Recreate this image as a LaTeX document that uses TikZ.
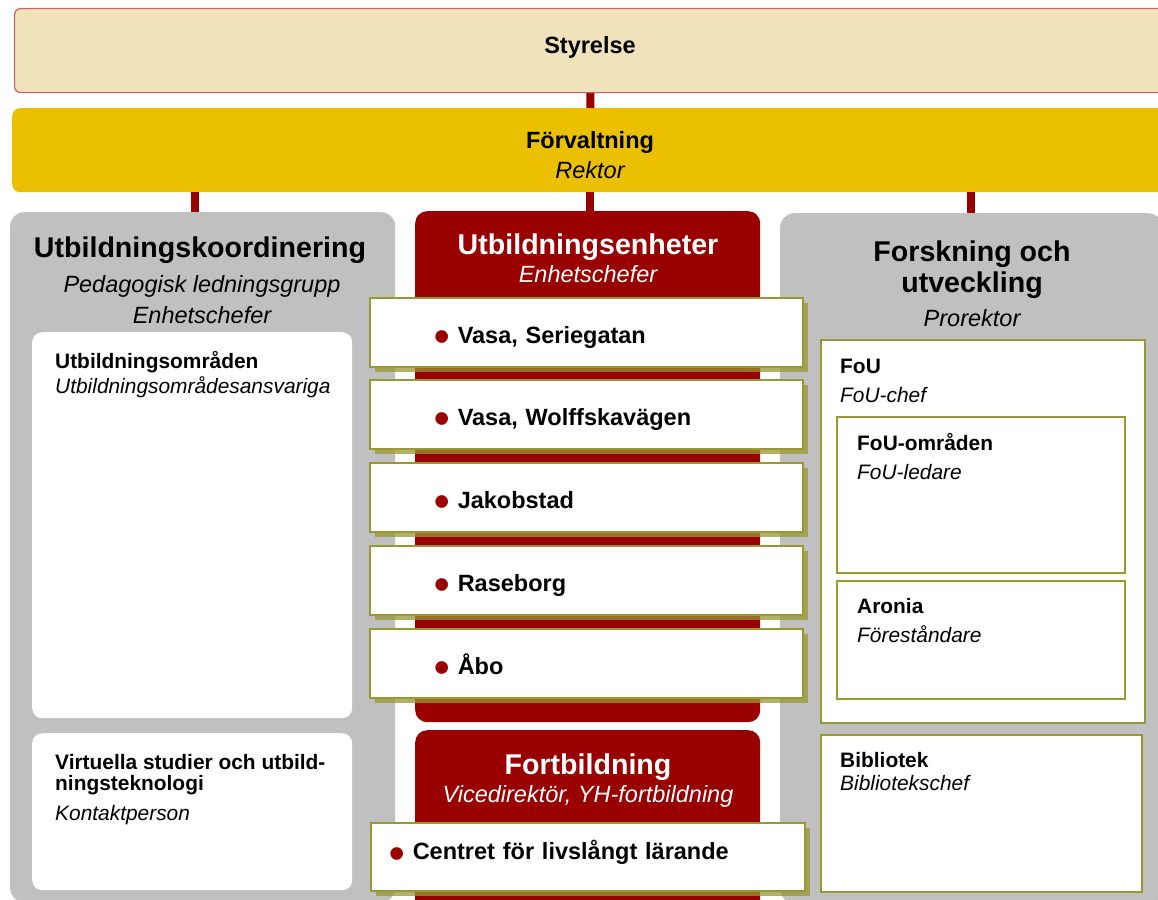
\documentclass[tikz,border=0pt]{standalone}
\usepackage{fontspec}
\setmainfont{Liberation Sans}
\usetikzlibrary{shadows}

\definecolor{hsred}{RGB}{153,0,0}
\definecolor{hsgold}{RGB}{235,192,0}
\definecolor{hsbeige}{RGB}{240,227,188}
\definecolor{hsrose}{RGB}{195,100,100}
\definecolor{hsgray}{RGB}{192,192,192}
\definecolor{hsolive}{RGB}{153,153,51}

\newcommand{\redbullet}{\textcolor{hsred}{\raisebox{-8.6pt}{\fontsize{44}{44}\selectfont\textbullet}}\hspace{7.6pt}}

\begin{document}
\begin{tikzpicture}[x=1pt, y=-1pt,
  head/.style={anchor=base, font=\fontsize{28.6}{32}\selectfont\bfseries},
  title/.style={anchor=base, font=\fontsize{23.5}{27}\selectfont\bfseries},
  role/.style={anchor=base, font=\fontsize{23.5}{27}\selectfont\itshape},
  unit/.style={anchor=base west, inner sep=0pt, font=\fontsize{20.9}{24}\selectfont\bfseries},
  chef/.style={anchor=base west, inner sep=0pt, font=\fontsize{20.9}{24}\selectfont\itshape},
  frame/.style={anchor=north west, inner sep=0pt},
  panel/.style={frame, fill=hsgray, rounded corners=14pt},
  redpanel/.style={frame, fill=hsred, rounded corners=12pt},
  whitebox/.style={frame, fill=white, rounded corners=10pt},
  olivebox/.style={frame, fill=white, draw=hsolive, line width=1.5pt},
  site/.style={olivebox, drop shadow={shadow xshift=5pt, shadow yshift=-5pt, fill=hsolive, opacity=0.75},
    minimum width=433pt, minimum height=69pt, inner xsep=65pt, text width=303pt, align=left,
    text height=22pt, text depth=0pt, font=\fontsize{23.5}{27}\selectfont\bfseries},
  link/.style={hsred, line width=8pt}
]
\path[use as bounding box, fill=white] (0,0) rectangle (1158,899);

% board and administration
\node[frame, fill=hsbeige, draw=hsrose, line width=1.2pt, rounded corners=6pt, minimum width=1152pt, minimum height=84pt] (styrelse) at (14,8) {};
\node[frame, fill=hsgold, rounded corners=8pt, minimum width=1156pt, minimum height=84pt] (forv) at (12,108) {};

% the three columns
\node[panel, minimum width=385pt, minimum height=690pt] (utbk) at (10,212) {};
\node[redpanel, minimum width=345pt, minimum height=511pt] (enheter) at (415,211) {};
\node[redpanel, minimum width=345pt, minimum height=190pt] (fort) at (415,730) {};
\node[panel, minimum width=382pt, minimum height=690pt] (forsk) at (780,213) {};

\coordinate (utbk-top) at ([xshift=-8pt]utbk.north);
\draw[link] (styrelse) -- (forv);
\draw[link] (forv.south -| utbk-top) -- (utbk-top);
\draw[link] (forv.south) -- (forv.south |- enheter.north);
\draw[link] (forv.south -| forsk.north) -- (forsk.north);

\node[title] (styr-t) at (590,53) {Styrelse};
\node[title] (forv-t) at (590,148) {Förvaltning};
\node[role] (rektor) at (590,178) {Rektor};

% left column
\node[head] (utbk-t) at (200,257) {Utbildningskoordinering};
\node[role] (pedgrp) at (202,292) {Pedagogisk ledningsgrupp};
\node[role] (utbk-chef) at (202,323) {Enhetschefer};

\node[whitebox, minimum width=320pt, minimum height=386pt] (omraden) at (32,332) {};
\node[unit] (omraden-t) at (55,368) {Utbildningsområden};
\node[chef] (omraden-c) at (55,393) {Utbildningsområdesansvariga};

\node[whitebox, minimum width=320pt, minimum height=157pt] (virtuella) at (32,733) {};
\node[unit] (virt-t1) at (55,769) {Virtuella studier och utbild-};
\node[unit] (virt-t2) at (55,790) {ningsteknologi};
\node[chef] (virt-c) at (55,820) {Kontaktperson};

% middle column
\node[head, text=white] (enheter-t) at (588,254) {Utbildningsenheter};
\node[role, text=white] (enheter-c) at (588,282) {Enhetschefer};

\node[site] (seriegatan) at (369,297) {\redbullet Vasa, Seriegatan};
\node[site] (wolffska) at (369,379) {\redbullet Vasa, Wolffskavägen};
\node[site] (jakobstad) at (369,462) {\redbullet Jakobstad};
\node[site] (raseborg) at (369,545) {\redbullet Raseborg};
\node[site] (abo) at (369,628) {\redbullet Åbo};

\node[head, text=white] (fort-t) at (588,774) {Fortbildning};
\node[role, text=white] (fort-c) at (588,802) {Vicedirektör, YH-fortbildning};
\node[site, minimum width=434pt, minimum height=68pt, inner xsep=19pt, text width=396pt, text height=6pt] (centret) at (370,822) {\redbullet Centret för livslångt lärande};

% right column
\node[head] (forsk-t1) at (972,261) {Forskning och};
\node[head] (forsk-t2) at (972,292) {utveckling};
\node[role] (prorektor) at (972,326) {Prorektor};

\node[olivebox, minimum width=324pt, minimum height=383pt] (fou) at (820,339) {};
\node[unit] (fou-t) at (840,373) {FoU};
\node[chef] (fou-c) at (840,402) {FoU-chef};

\node[olivebox, minimum width=288pt, minimum height=156pt] (fouomr) at (836,416) {};
\node[unit] (fouomr-t) at (857,450) {FoU-områden};
\node[chef] (fouomr-c) at (857,479) {FoU-ledare};

\node[olivebox, minimum width=288pt, minimum height=118pt] (aronia) at (836,580) {};
\node[unit] (aronia-t) at (857,613) {Aronia};
\node[chef] (aronia-c) at (857,642) {Föreståndare};

\node[olivebox, minimum width=321pt, minimum height=157pt] (bibliotek) at (820,734) {};
\node[unit] (bibl-t) at (840,767) {Bibliotek};
\node[chef] (bibl-c) at (840,790) {Bibliotekschef};
\end{tikzpicture}
\end{document}
